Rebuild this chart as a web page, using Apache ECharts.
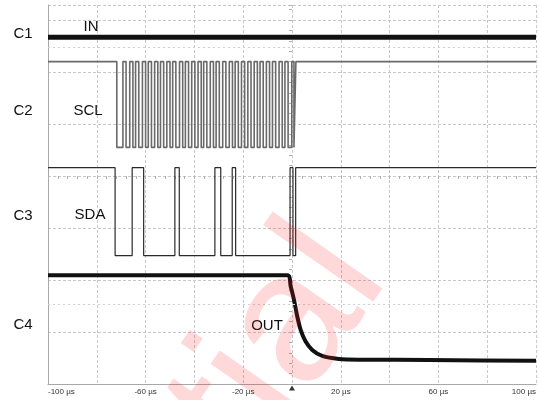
<!DOCTYPE html>
<html><head><meta charset="utf-8">
<script src="https://cdn.jsdelivr.net/npm/echarts@6/dist/echarts.min.js"></script>
<style>html,body{margin:0;padding:0;background:#fff}#c{width:539px;height:400px}</style>
</head><body><div id="c"></div>
<script>
// ---- data (time in µs, levels in screen divisions from bottom) ----
const xTickValues = [-100, -60, -20, 20, 60, 100];
const xTickLabels = ['-100 µs', '-60 µs', '-20 µs', '20 µs', '60 µs', '100 µs'];
const channelNames = ['C1', 'C2', 'C3', 'C4'];
const signalNames = ['IN', 'SCL', 'SDA', 'OUT'];

const inLevel = 6.667;

const sclHigh = 6.20;
const sclLow = 4.55;
// SCL transitions, alternating starting with a falling edge
const sclEdges = [
  -71.8, -69.3, -68.0, -66.5, -65.2, -64.1, -62.8, -61.3, -60.0, -58.9,
  -57.6, -56.3, -55.0, -53.9, -52.6, -51.3, -50.0, -48.9, -47.6, -46.1,
  -44.8, -43.7, -42.4, -41.1, -39.8, -38.5, -37.2, -36.2, -34.9, -33.5,
  -32.2, -31.1, -29.8, -28.4, -27.1, -25.7, -24.4, -23.3, -22.0, -20.7,
  -19.4, -18.1, -16.8, -15.5, -14.2, -13.1, -11.8, -10.5, -9.2, -8.0,
  -6.7, -5.3, -4.0, -2.9, -1.6, -0.1, 0.8, 1.6
];

const sdaHigh = 4.16;
const sdaLow = 2.47;
// SDA transitions, alternating starting with a falling edge
const sdaEdges = [-72.5, -65.5, -60.8, -48.0, -46.2, -31.6, -29.2, -24.5, -23.1, -0.8, 0.4, 1.5];

const outTimes  = [-100, -1.9, -0.53, 0.82, 2.16, 3.55, 5.59, 8.29, 12.37, 19.18, 28.69, 55.9, 99.5, 100];
const outValues = [2.09, 2.09, 1.875, 1.618, 1.297, 1.040, 0.815, 0.655, 0.540, 0.482, 0.468, 0.462, 0.449, 0.449];

const halfDivRows = [6.474, 1.541];

// ---- build series data from the arrays ----
function stepData(edges, high, low) {
  const pts = [[-100, high]];
  let level = high;
  edges.forEach(t => {
    const next = level === high ? low : high;
    pts.push([t, level], [t, next]);
    level = next;
  });
  pts.push([100, level]);
  return pts;
}
const inData = [[-100, inLevel], [100, inLevel]];
const sclData = stepData(sclEdges, sclHigh, sclLow);
const sdaData = stepData(sdaEdges, sdaHigh, sdaLow);
const outData = outTimes.map((t, i) => [t, outValues[i]]);

const chart = echarts.init(document.getElementById('c'), null, {renderer: 'canvas'});
const FONT = '"Liberation Sans", Arial, sans-serif';
const gridColor = '#c8c8c8';

const labelPos = {
  C1: [23, 34], C2: [23, 111], C3: [23, 216], C4: [23, 325],
  IN: [91, 27], SCL: [88, 111], SDA: [90, 215], OUT: [267, 326]
};
const texts = channelNames.concat(signalNames).map(name => ({
  type: 'text', x: labelPos[name][0], y: labelPos[name][1], z: 10,
  style: {text: name, font: '15px ' + FONT, fill: '#111', align: 'center', verticalAlign: 'middle'}
}));

const option = {
  animation: false,
  backgroundColor: '#fff',
  grid: {left: 48, right: 1, top: 5, bottom: 16, containLabel: false},
  xAxis: [{
    type: 'value', min: -100, max: 100, interval: 20,
    axisLine: {show: true, onZero: false, lineStyle: {color: '#a8a8a8', width: 1}},
    axisTick: {show: false},
    splitLine: {show: true, lineStyle: {color: gridColor, type: [3, 2], width: 1}},
    axisLabel: {
      show: true, margin: 4, fontSize: 8, fontFamily: FONT, color: '#333',
      alignMinLabel: 'left', alignMaxLabel: 'right',
      formatter: v => { const i = xTickValues.indexOf(v); return i >= 0 ? xTickLabels[i] : ''; }
    }
  }, {
    type: 'value', min: -100, max: 100, interval: 20, position: 'top',
    axisLine: {show: true, onZero: true, onZeroAxisIndex: 1, lineStyle: {color: 'rgba(0,0,0,0)'}},
    axisTick: {show: true, inside: true, length: 3, lineStyle: {color: '#b0b0b0'}},
    minorTick: {show: true, splitNumber: 5, length: 3, lineStyle: {color: '#b0b0b0'}},
    axisLabel: {show: false}, splitLine: {show: false}
  }],
  yAxis: [{
    type: 'value', min: 0, max: 7.288, interval: 1,
    axisLine: {show: true, onZero: false, lineStyle: {color: '#a8a8a8', width: 1}},
    axisTick: {show: false}, axisLabel: {show: false},
    splitLine: {show: true, lineStyle: {color: gridColor, type: [3, 2], width: 1}}
  }, {
    type: 'value', min: -4, max: 3.288, interval: 1, position: 'right',
    axisLine: {show: true, onZero: true, onZeroAxisIndex: 0, lineStyle: {color: 'rgba(0,0,0,0)'}},
    axisTick: {show: true, inside: true, length: 3, lineStyle: {color: '#b0b0b0'}},
    minorTick: {show: true, splitNumber: 5, length: 3, lineStyle: {color: '#b0b0b0'}},
    axisLabel: {show: false}, splitLine: {show: false}
  }],
  graphic: [{
    type: 'text', x: 272, y: 196, rotation: 0.96, z: 20, silent: true,
    style: {text: 'Confidential', font: '185px ' + FONT, fill: 'rgba(255,30,30,0.17)', align: 'right', verticalAlign: 'alphabetic'}
  }].concat(texts),
  series: [{
    type: 'line', name: 'IN', data: inData, symbol: 'none', silent: true,
    lineStyle: {color: '#111', width: 5},
    markLine: {
      silent: true, symbol: 'none', label: {show: false},
      lineStyle: {color: '#cfcfcf', type: [2, 3], width: 1},
      data: halfDivRows.map(v => ({yAxis: v}))
    }
  }, {
    type: 'line', name: 'SCL', data: sclData, symbol: 'none', silent: true,
    lineStyle: {color: '#6a6a6a', width: 1.6}
  }, {
    type: 'line', name: 'SDA', data: sdaData, symbol: 'none', silent: true,
    lineStyle: {color: '#2a2a2a', width: 1.2}
  }, {
    type: 'line', name: 'OUT', data: outData, symbol: 'none', silent: true, smooth: 0.3,
    lineStyle: {color: '#111', width: 4}
  }, {
    type: 'scatter', name: 'trigger', data: [[0, 0]], clip: false, silent: true,
    symbol: 'triangle', symbolSize: [6, 5], symbolOffset: [0, 4],
    itemStyle: {color: '#000'}
  }]
};
chart.setOption(option);
</script></body></html>
